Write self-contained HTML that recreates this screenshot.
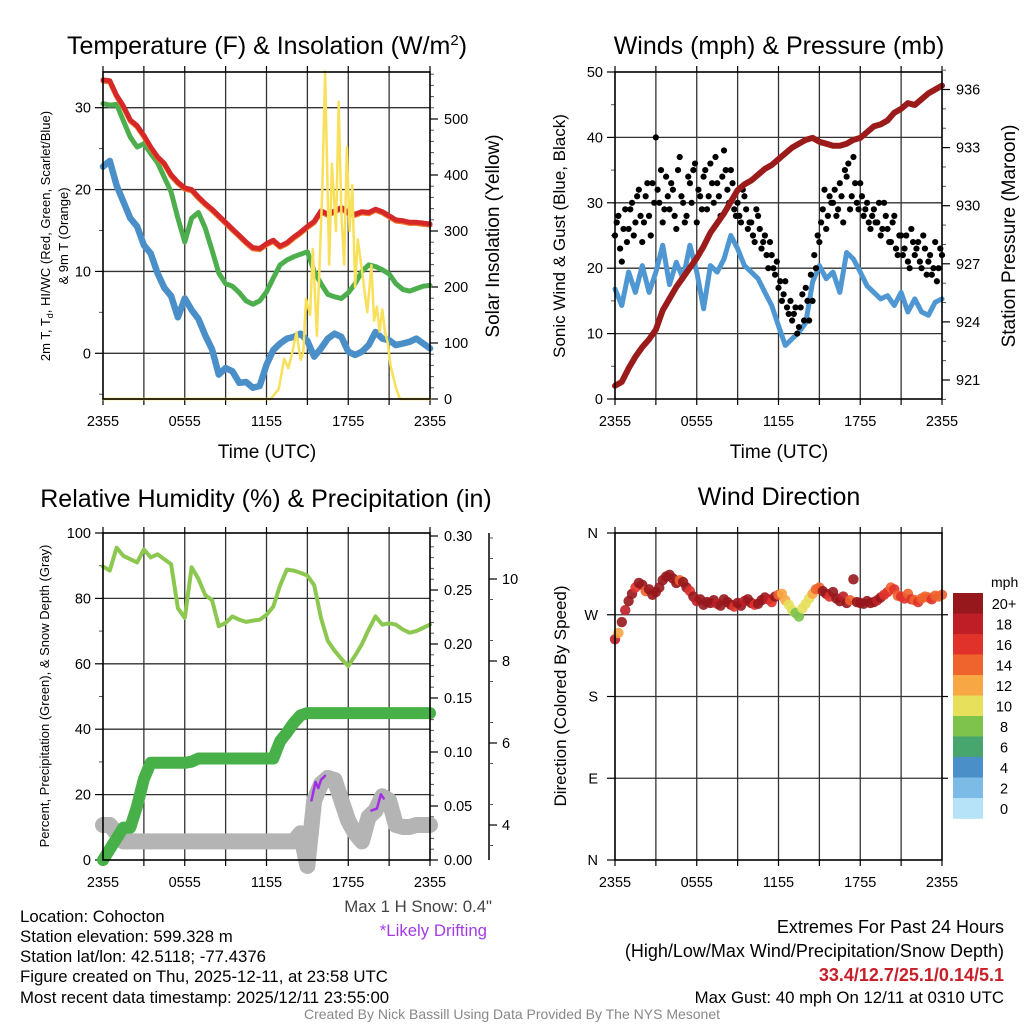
<!DOCTYPE html>
<html><head><meta charset="utf-8">
<style>
html,body{margin:0;padding:0;background:#fff;}
svg{display:block;font-family:"Liberation Sans",Arial,sans-serif;}
</style></head>
<body>
<svg id="c" width="1024" height="1024" viewBox="0 0 1024 1024" xmlns="http://www.w3.org/2000/svg">
<rect width="1024" height="1024" fill="#fff"/>
<g id="layer"></g>
<!-- titles -->
<text x="267" y="54" font-size="25" text-anchor="middle">Temperature (F) &amp; Insolation (W/m<tspan dy="-9" font-size="15">2</tspan><tspan dy="9">)</tspan></text>
<text x="779" y="54" font-size="25" text-anchor="middle">Winds (mph) &amp; Pressure (mb)</text>
<text x="266" y="507" font-size="25" text-anchor="middle">Relative Humidity (%) &amp; Precipitation (in)</text>
<text x="779" y="505" font-size="25" text-anchor="middle">Wind Direction</text>
<!-- axis titles -->
<text x="267" y="458" font-size="19" text-anchor="middle">Time (UTC)</text>
<text x="779" y="458" font-size="19" text-anchor="middle">Time (UTC)</text>
<text transform="translate(50,236) rotate(-90)" font-size="13" text-anchor="middle">2m T, T<tspan font-size="9" dy="3">d</tspan><tspan dy="-3">, HI/WC (Red, Green, Scarlet/Blue)</tspan></text>
<text transform="translate(68,236) rotate(-90)" font-size="13" text-anchor="middle">&amp; 9m T (Orange)</text>
<text transform="translate(499,236) rotate(-90)" font-size="19" text-anchor="middle">Solar Insolation (Yellow)</text>
<text transform="translate(565,236) rotate(-90)" font-size="17" text-anchor="middle">Sonic Wind &amp; Gust (Blue, Black)</text>
<text transform="translate(1015,236) rotate(-90)" font-size="19" text-anchor="middle">Station Pressure (Maroon)</text>
<text transform="translate(49,696) rotate(-90)" font-size="13" text-anchor="middle">Percent, Precipitation (Green), &amp; Snow Depth (Gray)</text>
<text transform="translate(566,696) rotate(-90)" font-size="17" text-anchor="middle">Direction (Colored By Speed)</text>
<!-- footer text -->
<g font-size="16.8" fill="#000">
<text x="20" y="922">Location: Cohocton</text>
<text x="20" y="942">Station elevation: 599.328 m</text>
<text x="20" y="962">Station lat/lon: 42.5118; -77.4376</text>
<text x="20" y="982">Figure created on Thu, 2025-12-11, at 23:58 UTC</text>
<text x="20" y="1003">Most recent data timestamp: 2025/12/11 23:55:00</text>
<text x="492" y="912" text-anchor="end" fill="#444">Max 1 H Snow: 0.4"</text>
<text x="487" y="936" text-anchor="end" fill="#a23ce6">*Likely Drifting</text>
<text x="1004" y="933" text-anchor="end" font-size="18">Extremes For Past 24 Hours</text>
<text x="1004" y="957" text-anchor="end" font-size="18">(High/Low/Max Wind/Precipitation/Snow Depth)</text>
<text x="1004" y="981" text-anchor="end" font-size="18" fill="#c8202a" font-weight="bold">33.4/12.7/25.1/0.14/5.1</text>
<text x="1004" y="1003" text-anchor="end">Max Gust: 40 mph On 12/11 at 0310 UTC</text>
</g>
<text x="512" y="1019" font-size="14" fill="#888" text-anchor="middle">Created By Nick Bassill Using Data Provided By The NYS Mesonet</text>
</svg>
<script>
// ---------- data (half-hourly, 2355 -> 2355 UTC) ----------
const timeLabels = ["2355","0555","1155","1755","2355"];
const tempF = [33.4,33.3,31.5,30.2,28.5,27.8,26.6,25.2,24.0,23.2,21.8,20.9,20.2,20.0,19.1,18.3,17.6,16.8,16.0,15.2,14.4,13.6,12.9,12.8,13.4,13.8,13.1,13.5,14.2,14.8,15.5,16.1,17.4,17.0,17.4,17.8,17.2,17.0,17.3,17.2,17.6,17.3,16.8,16.3,16.2,16.0,16.0,15.9,15.8];
const windChillF = [30.5,30.3,30.4,28.4,26.4,25.2,25.6,24.4,23.3,21.5,19.7,16.5,13.6,16.5,17.2,15.3,12.6,9.8,8.5,8.2,7.4,6.4,6.0,6.4,7.5,9.2,10.8,11.4,11.8,12.1,12.4,10.0,8.5,7.2,6.9,6.7,7.4,8.5,10.0,10.8,10.6,10.2,9.7,8.5,7.8,7.6,7.9,8.2,8.3];
const dewF = [22.8,23.5,20.5,18.5,16.5,15.5,13.2,12.2,9.8,8.0,7.0,4.4,6.7,5.3,4.2,2.2,0.5,-2.6,-1.8,-2.2,-3.6,-3.5,-4.2,-4.0,-1.4,0.4,1.2,1.8,2.0,2.4,1.5,-0.4,0.6,1.8,2.4,2.0,0.2,-0.2,0.2,1.0,2.6,1.8,1.6,1.0,1.2,1.4,1.8,1.2,0.6];
const solarHours = [0,12.3,12.9,13.3,13.6,13.9,14.2,14.5,14.7,14.9,15.2,15.4,15.7,15.9,16.1,16.3,16.6,16.8,17.1,17.3,17.5,17.7,17.9,18.1,18.3,18.5,18.7,19.0,19.4,19.7,19.9,20.1,20.3,20.5,20.7,20.9,21.1,21.5,21.8,24];
const solarW = [0,0,18,72,55,84,119,70,84,179,150,268,113,240,380,585,240,420,300,531,330,240,450,300,382,200,285,230,155,239,140,165,120,160,120,100,60,20,0,0];
const windMph = [16.8,14.3,19.4,16.3,20.4,16.3,19.4,23.5,17.5,20.9,18.4,23.5,19.4,13.8,20.4,19.4,21.4,25.0,23.0,20.4,19.4,18.4,16.3,14.3,11.2,8.2,9.2,10.2,11.7,17.9,20.4,18.4,19.4,16.3,22.4,21.4,19.4,17.3,16.3,15.3,15.8,14.3,16.3,13.3,15.3,13.3,12.8,14.8,15.3];
const pressureMb = [920.7,920.9,921.6,922.2,922.7,923.1,923.6,924.6,925.2,925.8,926.3,926.8,927.3,927.9,928.6,929.1,929.6,930.2,930.8,931.1,931.3,931.6,931.9,932.1,932.4,932.7,933.0,933.2,933.4,933.5,933.3,933.2,933.1,933.1,933.2,933.4,933.5,933.8,934.1,934.2,934.4,934.8,935.0,935.3,935.2,935.5,935.8,936.0,936.2];
// quarter-hourly
const gustMph = [25,28,21,29,26,30,27,32,24,31,28,33,40,30,27,34,29,32,26,37,30,28,33,35,27,31,34,29,36,30,33,28,38,32,35,29,30,27,31,26,27,24,28,23,25,20,22,19,17,15,18,13,12,14,11,16,17,12,15,20,24,29,26,31,30,28,33,27,34,29,37,30,33,28,30,26,29,27,25,30,26,24,28,22,25,23,21,26,22,24,20,23,21,19,24,20,22];
// quarter-hourly, offset by 1/8 hour
const gustMph2 = [27,23,26,24,29,25,31,28,27,33,25,30,32,35,29,31,33,28,35,31,27,34,30,36,32,29,35,31,33,37,31,34,35,30,33,28,28,32,29,27,25,29,26,24,22,24,20,21,18,16,14,15,13,10,14,12,15,19,22,25,27,32,28,30,32,29,31,35,36,31,33,29,31,29,27,28,27,30,26,28,24,27,23,25,22,25,20,24,23,21,25,19,22,20,18,23];
const dirDeg = [243,250,262,275,285,293,300,305,303,296,298,292,295,300,308,312,314,310,305,308,306,300,296,290,285,287,281,284,283,286,282,280,287,284,281,279,283,280,285,287,283,281,282,286,289,287,284,290,292,293,286,281,275,272,268,277,282,288,293,298,300,296,293,290,295,288,285,290,283,286,309,284,283,282,285,283,284,286,289,292,295,300,298,291,290,288,293,287,286,284,288,290,289,287,291,290,292];
const dirSpeed = [18,12,20,18,20,20,16,20,20,14,20,20,20,20,20,20,20,20,20,14,20,20,16,20,18,20,20,20,20,20,18,20,20,20,20,16,20,20,18,20,20,16,20,20,20,18,16,20,14,12,12,10,10,8,8,10,10,10,12,14,14,20,20,16,20,20,20,18,20,14,20,20,20,20,20,20,20,18,20,16,16,14,16,14,16,16,14,16,14,16,14,14,14,16,14,14,14];
// half-hourly
const rhPct = [89.8,88.5,95.5,93,92,91,95,92.5,93.5,92,90.5,77,74,89.5,86,81,79.5,71.5,72.5,74.5,73.5,72.8,73.2,73.5,75,77.5,84,88.8,88.5,87.8,87,84,74,67,64,61.5,59.3,62.5,66,70.5,74.5,72,72.4,72,70.5,69.5,70,71,72];
const precipIn = [0,0.01,0.02,0.03,0.03,0.05,0.075,0.09,0.09,0.09,0.09,0.09,0.09,0.091,0.094,0.094,0.094,0.094,0.094,0.094,0.094,0.094,0.094,0.094,0.094,0.094,0.11,0.118,0.127,0.134,0.136,0.136,0.136,0.136,0.136,0.136,0.136,0.136,0.136,0.136,0.136,0.136,0.136,0.136,0.136,0.136,0.136,0.136,0.136];
const snowIn = [4.0,4.0,3.8,3.6,3.6,3.6,3.6,3.6,3.6,3.6,3.6,3.6,3.6,3.6,3.6,3.6,3.6,3.6,3.6,3.6,3.6,3.6,3.6,3.6,3.6,3.6,3.6,3.6,3.6,3.8,3.0,4.6,5.0,5.15,5.1,4.6,4.1,3.8,3.6,4.2,4.35,4.7,4.6,4.0,3.95,3.95,4.0,4.0,4.0];
const driftHours = [[15.3,15.6,15.8,16.0,16.3],[19.7,20.1,20.4,20.6]];
const driftSnow = [[4.6,5.05,4.9,5.1,5.2],[4.35,4.4,4.75,4.65]];
const speedBins = ["0","2","4","6","8","10","12","14","16","18","20+"];
const speedColors = ["#b6e3f8","#7cbbe6","#4a8fc8","#47a56e","#7dc34c","#e6e05a","#f7a744","#ef632c","#e0322b","#c01e27","#96171c"];

// ---------- helpers ----------
const NS = "http://www.w3.org/2000/svg";
const layer = document.getElementById("layer");
function mk(tag, attrs, parent) {
  const e = document.createElementNS(NS, tag);
  for (const k in attrs) e.setAttribute(k, attrs[k]);
  (parent || layer).appendChild(e);
  return e;
}
function lin(d0, d1, r0, r1) { return v => r0 + (v - d0) * (r1 - r0) / (d1 - d0); }
function pathFrom(xs, ys) { return xs.map((x, i) => (i ? "L" : "M") + x.toFixed(1) + "," + ys[i].toFixed(1)).join(""); }
const halfHours = tempF.map((_, i) => i * 0.5);
const quarterHours = dirDeg.map((_, i) => i * 0.25);

function frame(P, name) {
  const g = mk("g", {});
  
  
  const xs = lin(0, 24, P.x0, P.x1);
  for (let h = 3; h < 24; h += 3) {
    const l = mk("line", {x1: xs(h), x2: xs(h), y1: P.y0, y2: P.y1, stroke: "#333", "stroke-width": 1.3}, g);
    
    
  }
  for (let h = 0; h <= 24; h += 3) {
    const t1 = mk("line", {x1: xs(h), x2: xs(h), y1: P.y1, y2: P.y1 + 6, stroke: "#000", "stroke-width": 1.2}, g);
    
    
    const t2 = mk("line", {x1: xs(h), x2: xs(h), y1: P.y0, y2: P.y0 - 6, stroke: "#000", "stroke-width": 1.2}, g);
    
    
  }
  timeLabels.forEach((s, i) => {
    const t = mk("text", {x: xs(i * 6), y: P.y1 + 27, "font-size": 14.5, "text-anchor": "middle"}, g);
    t.textContent = s;
    
    
  });
  return {g, xs};
}
function hgrid(g, P, ys, vals) {
  vals.forEach(v => {
    const l = mk("line", {x1: P.x0, x2: P.x1, y1: ys(v), y2: ys(v), stroke: "#333", "stroke-width": 1.3}, g);
    
    
  });
}
function yaxis(g, x, dir, ys, majors, minors, labels, fs, lx) {
  majors.forEach((v, i) => {
    const l = mk("line", {x1: x, x2: x + dir * 8, y1: ys(v), y2: ys(v), stroke: "#000", "stroke-width": 1.2}, g);
    
    
    const t = mk("text", {x: x + dir * lx, y: ys(v) + 5, "font-size": fs, "text-anchor": dir < 0 ? "end" : "start"}, g);
    t.textContent = labels[i];
    
    
  });
  minors.forEach(v => {
    const l = mk("line", {x1: x, x2: x + dir * 4, y1: ys(v), y2: ys(v), stroke: "#555", "stroke-width": 1}, g);
    
    
  });
}
function border(g, P) {
  const r = mk("rect", {x: P.x0, y: P.y0, width: P.x1 - P.x0, height: P.y1 - P.y0, fill: "none", stroke: "#000", "stroke-width": 1.6}, g);
  
  
}
function line(g, xs, ys, hs, vals, color, w, name) {
  const p = mk("path", {d: pathFrom(hs.map(xs), vals.map(ys)), fill: "none", stroke: color, "stroke-width": w, "stroke-linejoin": "round", "stroke-linecap": "round"}, g);
  
  
  return p;
}
function range(a, b, s) { const r = []; for (let v = a; v <= b + 1e-9; v += s) r.push(+v.toFixed(3)); return r; }

// ---------- Panel 1: temperature ----------
{
  const P = {x0: 103, x1: 430, y0: 72, y1: 399};
  const {g, xs} = frame(P, "temperature-panel");
  const yT = lin(0, 30, 353.3, 107.7);
  const yS = lin(0, 500, 399, 119);
  hgrid(g, P, yT, [0, 10, 20, 30]);
  yaxis(g, P.x0, -1, yT, [0, 10, 20, 30], [-5, 5, 15, 25], ["0", "10", "20", "30"], 14.5, 12);
  yaxis(g, P.x1, 1, yS, [0, 100, 200, 300, 400, 500], range(20, 580, 20).filter(v => v % 100), ["0", "100", "200", "300", "400", "500"], 14.5, 14);
  line(g, xs, yT, halfHours, dewF, "#4a8fc8", 6.5, "dewpoint-line");
  line(g, xs, yT, halfHours, windChillF, "#4cae4c", 5, "wind-chill-line");
  line(g, xs, yT, halfHours, tempF.map(v => v - 0.15), "#f07a2c", 5, "9m-temperature-line");
  line(g, xs, yT, halfHours, tempF, "#d62828", 5, "temperature-line");
  line(g, xs, yS, solarHours, solarW, "#f8e05a", 2.5, "solar-insolation-line");
  border(g, P);
}
// ---------- Panel 2: winds & pressure ----------
{
  const P = {x0: 615, x1: 942, y0: 72, y1: 399};
  const {g, xs} = frame(P, "winds-panel");
  const yW = lin(0, 50, 399, 72);
  const yP = lin(921, 936, 380, 89.5);
  hgrid(g, P, yW, [10, 20, 30, 40]);
  yaxis(g, P.x0, -1, yW, [0, 10, 20, 30, 40, 50], [5, 15, 25, 35, 45], ["0", "10", "20", "30", "40", "50"], 14.5, 12);
  yaxis(g, P.x1, 1, yP, [921, 924, 927, 930, 933, 936], range(920, 937, 1).filter(v => (v - 921) % 3), ["921", "924", "927", "930", "933", "936"], 14.5, 14);
  line(g, xs, yW, halfHours, windMph, "#4e97d2", 5, "sustained-wind-line");
  gustMph.forEach((v, i) => {
    const c = mk("circle", {cx: xs(quarterHours[i]), cy: yW(v), r: 3.1, fill: "#000"}, g);
    
    
  });
  gustMph2.forEach((v, i) => {
    const c = mk("circle", {cx: xs(quarterHours[i] + 0.125), cy: yW(v), r: 3.1, fill: "#000"}, g);
    
    
  });
  line(g, xs, yP, halfHours, pressureMb, "#9b1b1b", 6, "pressure-line");
  border(g, P);
}
// ---------- Panel 3: humidity, precip, snow ----------
{
  const P = {x0: 103, x1: 430, y0: 533, y1: 860};
  const {g, xs} = frame(P, "humidity-panel");
  const yR = lin(0, 100, 860, 533);
  const yPr = lin(0, 0.05, 860, 806);
  const ySn = lin(4, 6, 825, 743);
  hgrid(g, P, yR, [20, 40, 60, 80]);
  yaxis(g, P.x0, -1, yR, [0, 20, 40, 60, 80, 100], [10, 30, 50, 70, 90], ["0", "20", "40", "60", "80", "100"], 14.5, 12);
  yaxis(g, P.x1, 1, yPr, [0, 0.05, 0.1, 0.15, 0.2, 0.25, 0.3], range(0.01, 0.29, 0.01).filter(v => Math.round(v * 100) % 5), ["0.00", "0.05", "0.10", "0.15", "0.20", "0.25", "0.30"], 14.5, 14);
  const ax = mk("line", {x1: 489, x2: 489, y1: 533, y2: 860, stroke: "#000", "stroke-width": 1.5}, g);
  
  
  yaxis(g, 489, 1, ySn, [4, 6, 8, 10], [3.5, 4.5, 5.5, 6.5, 7.5, 8.5, 9.5, 10.5, 11], ["4", "6", "8", "10"], 14.5, 13);
  line(g, xs, ySn, halfHours, snowIn, "#b4b4b4", 16, "snow-depth-line");
  driftHours.forEach((hs, k) => line(g, xs, ySn, hs, driftSnow[k], "#a22ee8", 2.5, "drifting-snow-segment"));
  line(g, xs, yPr, halfHours, precipIn, "#48b048", 12, "precipitation-line");
  line(g, xs, yR, halfHours, rhPct, "#8cc850", 4, "relative-humidity-line");
  border(g, P);
}
// ---------- Panel 4: wind direction ----------
{
  const P = {x0: 615, x1: 942, y0: 533, y1: 860};
  const {g, xs} = frame(P, "wind-direction-panel");
  const yD = lin(0, 360, 860, 533);
  hgrid(g, P, yD, [90, 180, 270]);
  yaxis(g, P.x0, -1, yD, [0, 90, 180, 270, 360], [], ["N", "E", "S", "W", "N"], 14.5, 17);
  [90, 180, 270].forEach(v => {
    const l = mk("line", {x1: P.x1, x2: P.x1 + 6, y1: yD(v), y2: yD(v), stroke: "#000", "stroke-width": 1.2}, g);
    
    
  });
  dirDeg.forEach((d, i) => {
    const b = Math.min(10, Math.floor(dirSpeed[i] / 2));
    const c = mk("circle", {cx: xs(quarterHours[i]), cy: yD(d), r: 5.2, fill: speedColors[b], "fill-opacity": 0.9}, g);
    
    
  });
  border(g, P);
  // colorbar
  const cb = mk("g", {}, layer);
  
  
  const ttl = mk("text", {x: 991, y: 587, "font-size": 14}, cb);
  ttl.textContent = "mph";
  
  
  for (let k = 10; k >= 0; k--) {
    const top = 593 + (10 - k) * 20.5;
    const r = mk("rect", {x: 953, y: top, width: 30, height: 20.8, fill: speedColors[k]}, cb);
    
    
    const t = mk("text", {x: 1004, y: top + 16, "font-size": 14.5, "text-anchor": "middle"}, cb);
    t.textContent = speedBins[k];
    
    
  }
}
</script>
</body></html>
